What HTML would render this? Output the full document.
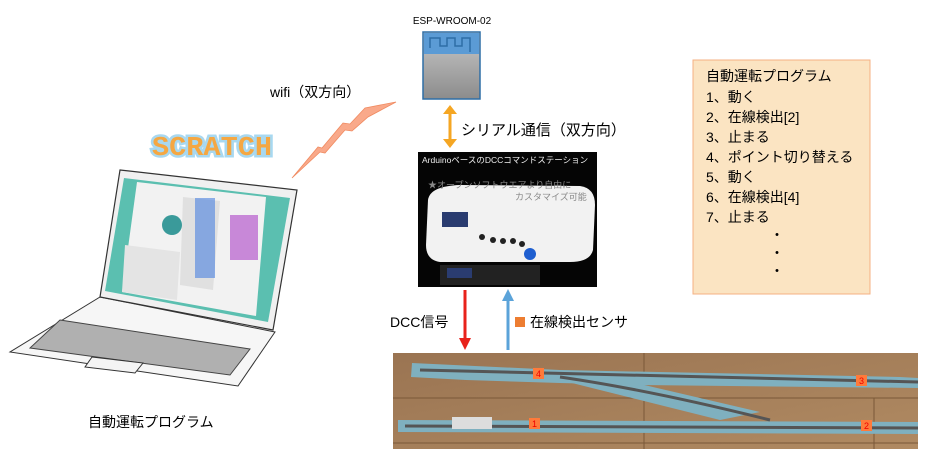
<!DOCTYPE html>
<html><head><meta charset="utf-8"><style>
body{margin:0;width:931px;height:460px;background:#fff;overflow:hidden;font-family:"Liberation Sans","Noto Sans CJK JP",sans-serif;}
svg{position:absolute;left:0;top:0}
</style></head><body>
<svg width="931" height="460" viewBox="0 0 931 460" font-family="Liberation Sans, Noto Sans CJK JP, sans-serif">
<defs>
<linearGradient id="g1" x1="0" y1="0" x2="0" y2="1"><stop offset="0" stop-color="#c8c8c8"/><stop offset="1" stop-color="#8c8c8c"/></linearGradient>
<linearGradient id="wood" x1="0" y1="0" x2="1" y2="1"><stop offset="0" stop-color="#9a7452"/><stop offset="1" stop-color="#b08a62"/></linearGradient>
</defs>
<text x="452" y="24" font-size="10" text-anchor="middle">ESP-WROOM-02</text>
<rect x="423" y="32" width="57" height="67" fill="url(#g1)" stroke="#2e6ea6" stroke-width="1.5"/>
<rect x="424" y="33" width="55" height="21" fill="#5b9bd5"/>
<path d="M430 48 V38 H440 V46 H447 V38 H455 V46 H462 V38 H470 V52" fill="none" stroke="#2e6ea6" stroke-width="1.5"/>
<line x1="450" y1="112" x2="450" y2="141" stroke="#f5a623" stroke-width="3"/>
<polygon points="443,114 450,105 457,114" fill="#f5a623"/>
<polygon points="443,139 450,148 457,139" fill="#f5a623"/>
<text x="461" y="135" font-size="15">シリアル通信（双方向）</text>
<rect x="418" y="152" width="179" height="135" fill="#050505"/>
<text x="422" y="163" font-size="8.5" fill="#eee">ArduinoベースのDCCコマンドステーション</text>
<path d="M428 200 Q430 186 460 185 L580 186 Q595 188 595 205 L593 250 Q590 262 570 262 L440 262 Q426 260 426 245 Z" fill="#f2f2f2"/>
<text x="428" y="188" font-size="9" fill="#888">★オープンソフトウエアより自由に</text>
<text x="515" y="200" font-size="9" fill="#888">カスタマイズ可能</text>
<rect x="442" y="212" width="26" height="15" fill="#2a3c70"/>
<circle cx="530" cy="254" r="6" fill="#1f5fd0"/>
<g fill="#222"><circle cx="482" cy="237" r="3"/><circle cx="493" cy="240" r="3"/><circle cx="503" cy="241" r="3"/><circle cx="513" cy="241" r="3"/><circle cx="522" cy="244" r="3"/></g>
<rect x="440" y="265" width="100" height="20" fill="#222"/>
<rect x="447" y="268" width="25" height="10" fill="#2a3c70"/>
<line x1="465" y1="290" x2="465" y2="340" stroke="#e8221b" stroke-width="3"/>
<polygon points="459,338 465,350 471,338" fill="#e8221b"/>
<line x1="508" y1="298" x2="508" y2="350" stroke="#5ba3d9" stroke-width="3"/>
<polygon points="502,301 508,289 514,301" fill="#5ba3d9"/>
<text x="390" y="327" font-size="14">DCC信号</text>
<rect x="515" y="317" width="10" height="10" fill="#ed7d31"/>
<text x="530" y="327" font-size="14">在線検出センサ</text>
<rect x="393" y="353" width="525" height="96" fill="url(#wood)"/>
<g stroke="#7a5838" stroke-width="1"><line x1="393" y1="398" x2="918" y2="398"/><line x1="393" y1="443" x2="918" y2="443"/><line x1="644" y1="353" x2="644" y2="449"/><line x1="874" y1="398" x2="874" y2="449"/></g>
<polygon points="412,363 560,370 900,377 918,378 918,388 640,385 560,383 466,380 411,377" fill="#7fb0bf"/>
<polygon points="560,380 640,384 760,412 720,420" fill="#7fb0bf"/>
<polygon points="398,420 918,422 918,434 398,432" fill="#7fb0bf"/>
<g stroke="#555" stroke-width="3" fill="none"><path d="M420 370 L918 382"/><path d="M560 377 Q650 390 770 420"/><path d="M405 426 L918 428"/></g>
<rect x="452" y="417" width="40" height="12" fill="#ddd"/>
<g font-size="9" fill="#e00"><rect x="529" y="418" width="11" height="11" fill="#ff7a3a"/><text x="532" y="427">1</text>
<rect x="861" y="420" width="11" height="11" fill="#ff7a3a"/><text x="864" y="429">2</text>
<rect x="856" y="375" width="11" height="11" fill="#ff7a3a"/><text x="859" y="384">3</text>
<rect x="533" y="368" width="11" height="11" fill="#ff7a3a"/><text x="536" y="377">4</text></g>
<rect x="693" y="60" width="177" height="234" fill="#fbe4c2" stroke="#f4b183"/>
<g font-size="14"><text x="706" y="81">自動運転プログラム</text><text x="706" y="102">1、動く</text><text x="706" y="122">2、在線検出[2]</text><text x="706" y="142">3、止まる</text><text x="706" y="162">4、ポイント切り替える</text><text x="706" y="182">5、動く</text><text x="706" y="202">6、在線検出[4]</text><text x="706" y="222">7、止まる</text>
<text x="770" y="240">・</text><text x="770" y="258">・</text><text x="770" y="276">・</text></g>
<text x="270" y="97" font-size="14">wifi（双方向）</text>
<polygon points="292,178 318,147 322,148 343,123 350,124 365,108 396,102 368,117 352,131 345,130 325,153 320,152" fill="#f9a98a" stroke="#f08a60" stroke-width="0.8"/>
<text x="152" y="155" font-size="27" font-weight="bold" font-family="Liberation Mono, monospace" fill="#f5a742" stroke="#a8d8f0" stroke-width="5" paint-order="stroke" textLength="120" lengthAdjust="spacingAndGlyphs">SCRATCH</text>
<polygon points="100,297 275,332 238,386 10,352" fill="#f6f6f6" stroke="#333"/>
<polygon points="60,320 250,349 230,375 30,348" fill="#b0b0b0" stroke="#444"/>
<polygon points="92,357 143,363 135,373 85,367" fill="#f4f4f4" stroke="#333"/>
<polygon points="120,170 297,190 273,330 100,297" fill="#f0f0f0" stroke="#333" stroke-width="1.2"/>
<polygon points="124,178 290,198 268,322 105,291" fill="#5bbfb0"/>
<polygon points="137,182 266,197 256,316 122,292" fill="#f2f2f2"/>
<polygon points="183,197 220,201 213,290 180,285" fill="#e0e0e0"/>
<polygon points="125,245 180,252 177,300 122,292" fill="#e4e4e4"/>
<rect x="230" y="215" width="28" height="45" fill="#c888d8"/>
<rect x="195" y="198" width="20" height="80" fill="#4a80e0" opacity="0.6"/>
<circle cx="172" cy="225" r="10" fill="#3a9a9a"/>
<text x="88" y="427" font-size="14">自動運転プログラム</text>
</svg>
</body></html>
